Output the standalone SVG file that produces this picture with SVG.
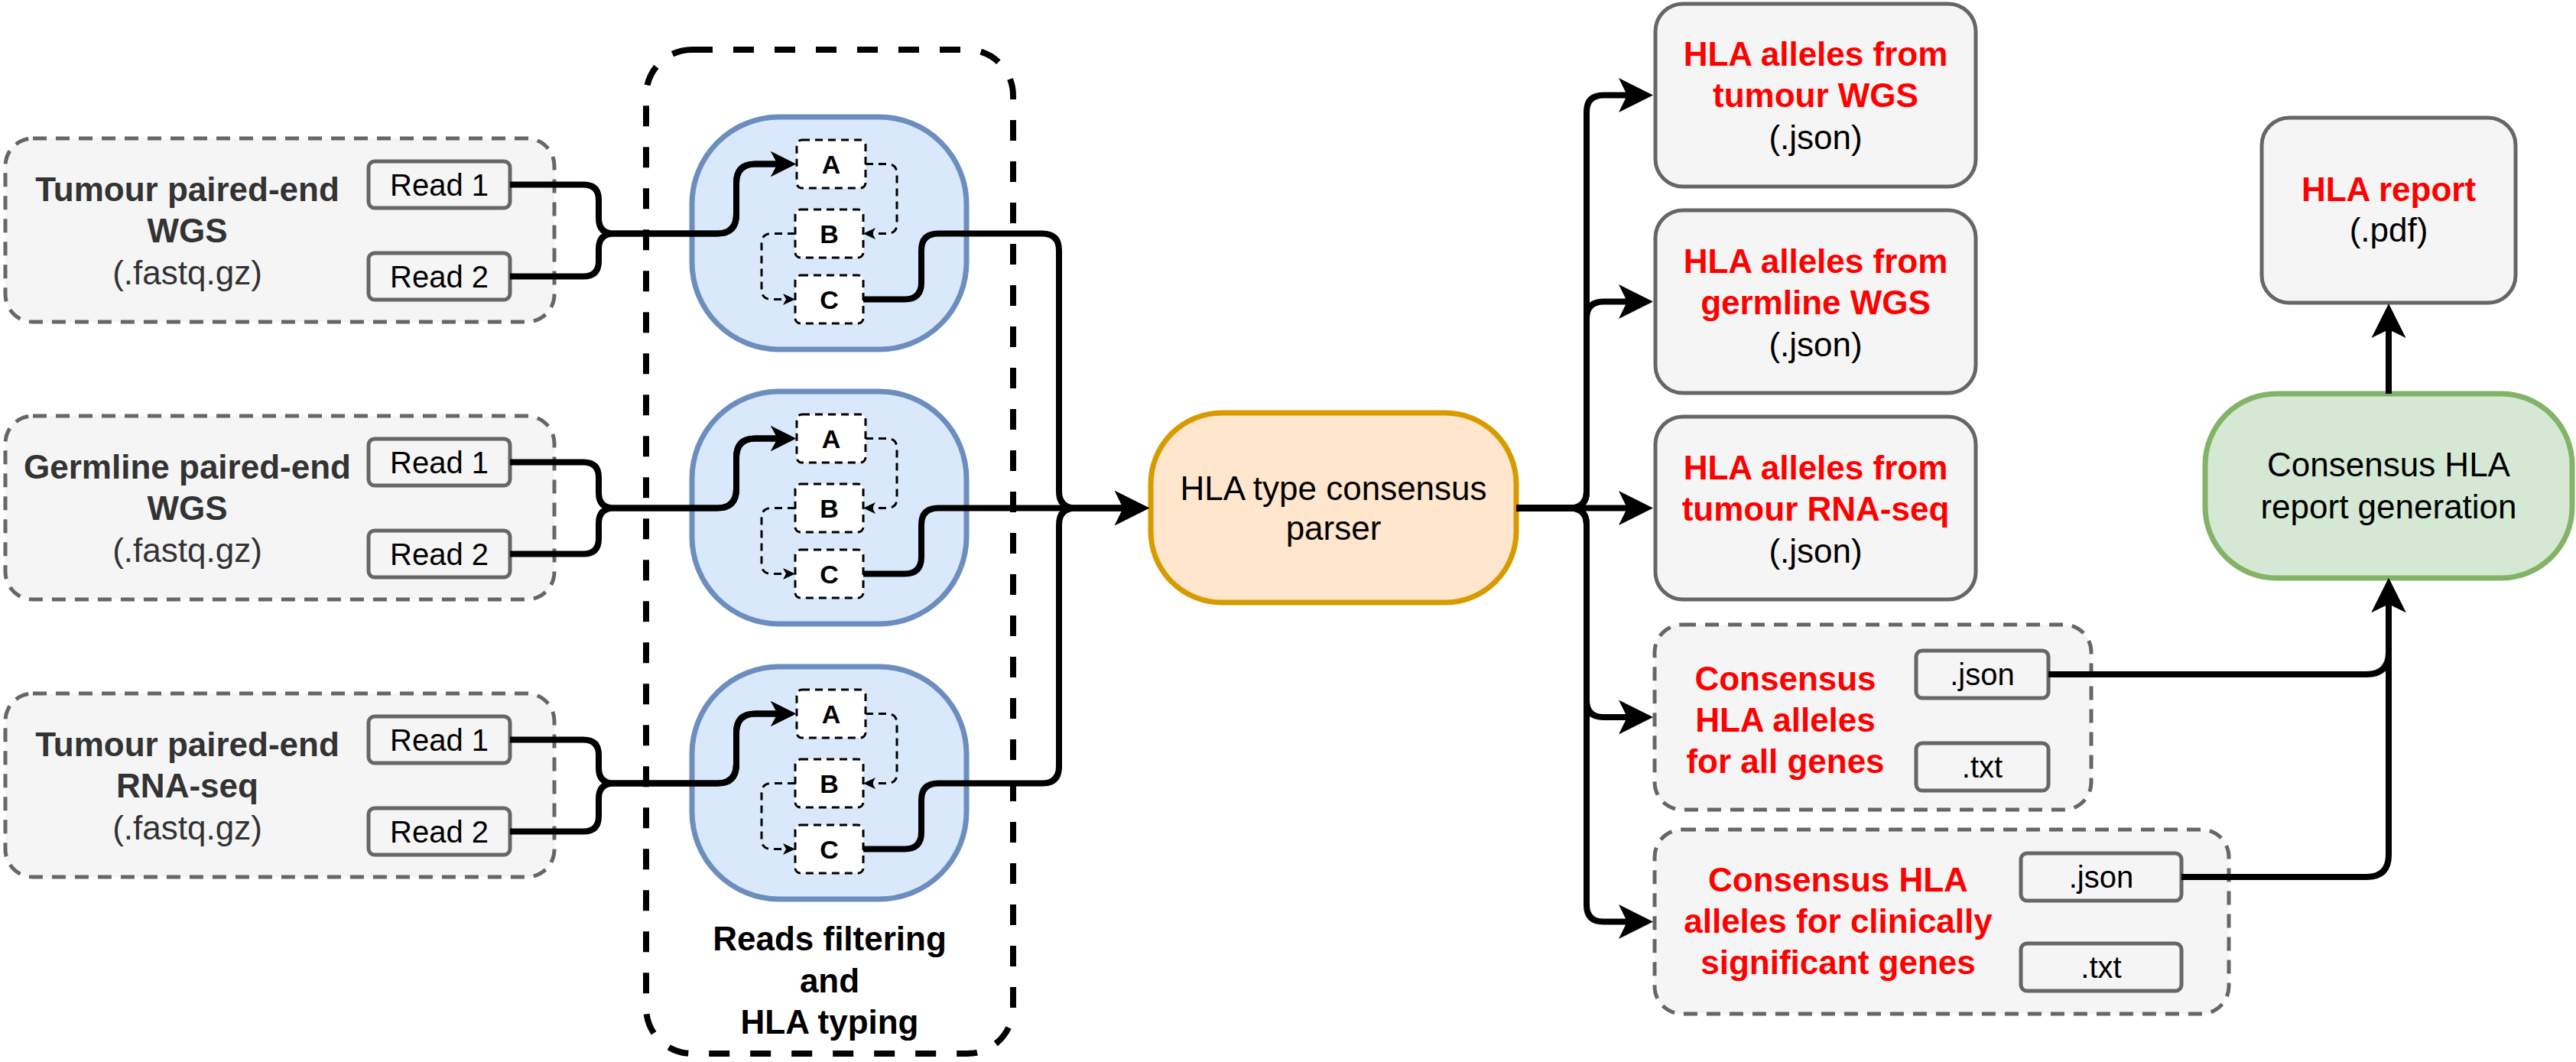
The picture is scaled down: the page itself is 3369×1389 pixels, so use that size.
<svg xmlns="http://www.w3.org/2000/svg" width="3369" height="1389" viewBox="0 0 3369 1389">
<style>
.t{font-family:"Liberation Sans",Arial,Helvetica,sans-serif;text-anchor:middle;font-size:44px;fill:#000}
.s40{font-size:40px}
.s34{font-size:34px}
.b{font-weight:bold}
.red{fill:#ff0000}
.dark{fill:#333333}
.gbox{fill:#f5f5f5;stroke:#666666;stroke-width:5}
.gdash{stroke-dasharray:18 12}
.small{fill:#f5f5f5;stroke:#666666;stroke-width:5}
.blue{fill:#dae8fc;stroke:#6c8ebf;stroke-width:7}
.orange{fill:#ffe6cc;stroke:#d79b00;stroke-width:7}
.green{fill:#d5e8d4;stroke:#82b366;stroke-width:7}
.inner{fill:#ffffff;stroke:#000;stroke-width:3;stroke-dasharray:10 7}
.cont{fill:none;stroke:#000;stroke-width:8;stroke-dasharray:27 27}
.conn{fill:none;stroke:#000;stroke-width:8;stroke-linejoin:round}
.iconn{fill:none;stroke:#000;stroke-width:3;stroke-dasharray:10 7}
</style>
<defs>
<marker id="arrowL" markerUnits="userSpaceOnUse" viewBox="-12 -24 48 48" markerWidth="48" markerHeight="48" refX="0" refY="0" orient="auto"><path d="M34,0 L-11,-22.5 L0,0 L-11,22.5 Z" fill="#000" stroke="none"/></marker>
<marker id="arrowS" markerUnits="userSpaceOnUse" viewBox="-10 -18 36 36" markerWidth="36" markerHeight="36" refX="0" refY="0" orient="auto"><path d="M24,0 L-9,-16.5 L0,0 L-9,16.5 Z" fill="#000" stroke="none"/></marker>
<marker id="arrowT" markerUnits="userSpaceOnUse" viewBox="-5 -8 18 16" markerWidth="18" markerHeight="16" refX="0" refY="0" orient="auto"><path d="M12,0 L-4,-7.5 L0,0 L-4,7.5 Z" fill="#000" stroke="none"/></marker>
</defs>

<g id="input-tumour-wgs">
<rect class="gbox gdash" x="7" y="181" width="718" height="240" rx="36"/>
<text class="t b dark" x="245" y="263">Tumour paired-end</text>
<text class="t b dark" x="245" y="317">WGS</text>
<text class="t dark" x="245" y="372">(.fastq.gz)</text>
<rect class="small" x="482" y="211" width="185" height="61" rx="8"/>
<text class="t s40" x="574.5" y="256">Read 1</text>
<rect class="small" x="482" y="331" width="185" height="61" rx="8"/>
<text class="t s40" x="574.5" y="376">Read 2</text>
</g>
<g id="input-germline-wgs">
<rect class="gbox gdash" x="7" y="544" width="718" height="240" rx="36"/>
<text class="t b dark" x="245" y="626">Germline paired-end</text>
<text class="t b dark" x="245" y="680">WGS</text>
<text class="t dark" x="245" y="735">(.fastq.gz)</text>
<rect class="small" x="482" y="574" width="185" height="61" rx="8"/>
<text class="t s40" x="574.5" y="619">Read 1</text>
<rect class="small" x="482" y="694" width="185" height="61" rx="8"/>
<text class="t s40" x="574.5" y="739">Read 2</text>
</g>
<g id="input-tumour-rnaseq">
<rect class="gbox gdash" x="7" y="907" width="718" height="240" rx="36"/>
<text class="t b dark" x="245" y="989">Tumour paired-end</text>
<text class="t b dark" x="245" y="1043">RNA-seq</text>
<text class="t dark" x="245" y="1098">(.fastq.gz)</text>
<rect class="small" x="482" y="937" width="185" height="61" rx="8"/>
<text class="t s40" x="574.5" y="982">Read 1</text>
<rect class="small" x="482" y="1057" width="185" height="61" rx="8"/>
<text class="t s40" x="574.5" y="1102">Read 2</text>
</g>

<g id="reads-filtering-hla-typing">
<rect class="cont" x="845" y="65" width="480" height="1313" rx="60"/>
<text class="t b" x="1085" y="1243">Reads filtering</text>
<text class="t b" x="1085" y="1298">and</text>
<text class="t b" x="1085" y="1352">HLA typing</text>
</g>

<g id="typing-1">
<rect class="blue" x="905" y="153" width="359" height="304" rx="114"/>
</g>
<g id="typing-2">
<rect class="blue" x="905" y="512" width="359" height="304" rx="114"/>
</g>
<g id="typing-3">
<rect class="blue" x="905" y="872" width="359" height="304" rx="114"/>
</g>

<g id="consensus-parser">
<rect class="orange" x="1505" y="540" width="478" height="248" rx="93"/>
<text class="t" x="1744" y="654">HLA type consensus</text>
<text class="t" x="1744" y="706">parser</text>
</g>

<g id="out-tumour-wgs">
<rect class="gbox" x="2165" y="5" width="419" height="239" rx="36"/>
<text class="t b red" x="2374.5" y="86">HLA alleles from</text>
<text class="t b red" x="2374.5" y="140">tumour WGS</text>
<text class="t" x="2374.5" y="195">(.json)</text>
</g>
<g id="out-germline-wgs">
<rect class="gbox" x="2165" y="275" width="419" height="239" rx="36"/>
<text class="t b red" x="2374.5" y="357">HLA alleles from</text>
<text class="t b red" x="2374.5" y="411">germline WGS</text>
<text class="t" x="2374.5" y="466">(.json)</text>
</g>
<g id="out-tumour-rnaseq">
<rect class="gbox" x="2165" y="545" width="419" height="239" rx="36"/>
<text class="t b red" x="2374.5" y="627">HLA alleles from</text>
<text class="t b red" x="2374.5" y="681">tumour RNA-seq</text>
<text class="t" x="2374.5" y="736">(.json)</text>
</g>
<g id="out-consensus-all">
<rect class="gbox gdash" x="2164" y="817" width="571" height="242" rx="36"/>
<text class="t b red" x="2335" y="903">Consensus</text>
<text class="t b red" x="2335" y="957">HLA alleles</text>
<text class="t b red" x="2335" y="1011">for all genes</text>
<rect class="small" x="2506" y="851" width="173" height="62" rx="8"/>
<text class="t s40" x="2592.5" y="896">.json</text>
<rect class="small" x="2506" y="972" width="173" height="62" rx="8"/>
<text class="t s40" x="2592.5" y="1017">.txt</text>
</g>
<g id="out-consensus-clinical">
<rect class="gbox gdash" x="2164" y="1085" width="751" height="241" rx="36"/>
<text class="t b red" x="2404" y="1166">Consensus HLA</text>
<text class="t b red" x="2404" y="1220">alleles for clinically</text>
<text class="t b red" x="2404" y="1274">significant genes</text>
<rect class="small" x="2643" y="1116" width="210" height="62" rx="8"/>
<text class="t s40" x="2748" y="1161">.json</text>
<rect class="small" x="2643" y="1234" width="210" height="62" rx="8"/>
<text class="t s40" x="2748" y="1279">.txt</text>
</g>

<g id="report-generation">
<rect class="green" x="2884" y="515" width="480" height="241" rx="93"/>
<text class="t" x="3124" y="623">Consensus HLA</text>
<text class="t" x="3124" y="678">report generation</text>
</g>
<g id="hla-report">
<rect class="gbox" x="2958" y="154" width="332" height="242" rx="36"/>
<text class="t b red" x="3124" y="263">HLA report</text>
<text class="t" x="3124" y="316">(.pdf)</text>
</g>

<g id="connectors">
<path class="conn" marker-end="url(#arrowS)" d="M667 241.5 H763 Q783 241.5 783 261.5 V285.5 Q783 305.5 803 305.5 H938 Q963 305.5 963 280.5 V239.5 Q963 214.5 988 214.5 H1017"/>
<path class="conn" marker-end="url(#arrowS)" d="M667 361.5 H763 Q783 361.5 783 341.5 V325.5 Q783 305.5 803 305.5 H938 Q963 305.5 963 280.5 V239.5 Q963 214.5 988 214.5 H1017"/>
<path class="conn" marker-end="url(#arrowS)" d="M667 604.5 H763 Q783 604.5 783 624.5 V644.5 Q783 664.5 803 664.5 H938 Q963 664.5 963 639.5 V598.5 Q963 573.5 988 573.5 H1017"/>
<path class="conn" marker-end="url(#arrowS)" d="M667 724.5 H763 Q783 724.5 783 704.5 V684.5 Q783 664.5 803 664.5 H938 Q963 664.5 963 639.5 V598.5 Q963 573.5 988 573.5 H1017"/>
<path class="conn" marker-end="url(#arrowS)" d="M667 967.5 H763 Q783 967.5 783 987.5 V1004.5 Q783 1024.5 803 1024.5 H938 Q963 1024.5 963 999.5 V958.5 Q963 933.5 988 933.5 H1017"/>
<path class="conn" marker-end="url(#arrowS)" d="M667 1087.5 H763 Q783 1087.5 783 1067.5 V1044.5 Q783 1024.5 803 1024.5 H938 Q963 1024.5 963 999.5 V958.5 Q963 933.5 988 933.5 H1017"/>

<path class="iconn" marker-end="url(#arrowT)" d="M1132 214.5 H1160 Q1173 214.5 1173 227.5 V292.5 Q1173 305.5 1160 305.5 H1141"/>
<path class="iconn" marker-end="url(#arrowT)" d="M1040 305.5 H1009 Q996 305.5 996 318.5 V378.5 Q996 391.5 1009 391.5 H1028"/>
<path class="iconn" marker-end="url(#arrowT)" d="M1132 573.5 H1160 Q1173 573.5 1173 586.5 V651.5 Q1173 664.5 1160 664.5 H1141"/>
<path class="iconn" marker-end="url(#arrowT)" d="M1040 664.5 H1009 Q996 664.5 996 677.5 V737.5 Q996 750.5 1009 750.5 H1028"/>
<path class="iconn" marker-end="url(#arrowT)" d="M1132 933.5 H1160 Q1173 933.5 1173 946.5 V1011.5 Q1173 1024.5 1160 1024.5 H1141"/>
<path class="iconn" marker-end="url(#arrowT)" d="M1040 1024.5 H1009 Q996 1024.5 996 1037.5 V1097.5 Q996 1110.5 1009 1110.5 H1028"/>

<path class="conn" marker-end="url(#arrowL)" d="M1129 391.5 H1183 Q1205 391.5 1205 369.5 V327.5 Q1205 305.5 1227 305.5 H1363 Q1385 305.5 1385 327.5 V642.5 Q1385 664.5 1407 664.5 H1469"/>
<path class="conn" marker-end="url(#arrowL)" d="M1129 750.5 H1183 Q1205 750.5 1205 728.5 V686.5 Q1205 664.5 1227 664.5 H1469"/>
<path class="conn" marker-end="url(#arrowL)" d="M1129 1110.5 H1183 Q1205 1110.5 1205 1088.5 V1046.5 Q1205 1024.5 1227 1024.5 H1363 Q1385 1024.5 1385 1002.5 V686.5 Q1385 664.5 1407 664.5 H1469"/>

<path class="conn" marker-end="url(#arrowL)" d="M1983 664.5 H2053 Q2075 664.5 2075 642.5 V146.5 Q2075 124.5 2097 124.5 H2128"/>
<path class="conn" marker-end="url(#arrowL)" d="M1983 664.5 H2053 Q2075 664.5 2075 642.5 V416.5 Q2075 394.5 2097 394.5 H2128"/>
<path class="conn" marker-end="url(#arrowL)" d="M1983 664.5 H2128"/>
<path class="conn" marker-end="url(#arrowL)" d="M1983 664.5 H2053 Q2075 664.5 2075 686.5 V916 Q2075 938 2097 938 H2128"/>
<path class="conn" marker-end="url(#arrowL)" d="M1983 664.5 H2053 Q2075 664.5 2075 686.5 V1183.5 Q2075 1205.5 2097 1205.5 H2128"/>

<path class="conn" marker-end="url(#arrowL)" d="M2679 882 H3095 Q3124 882 3124 853 V790"/>
<path class="conn" marker-end="url(#arrowL)" d="M2853 1147 H3095 Q3124 1147 3124 1118 V790"/>
<path class="conn" marker-end="url(#arrowL)" d="M3124 515 V431"/>
</g>

<g id="typing-1-steps">
<rect class="inner" x="1042" y="183" width="90" height="63" rx="7"/>
<text class="t b s34" x="1087" y="226.5">A</text>
<rect class="inner" x="1040" y="274" width="89" height="63" rx="7"/>
<text class="t b s34" x="1084.5" y="317.5">B</text>
<rect class="inner" x="1040" y="360" width="89" height="63" rx="7"/>
<text class="t b s34" x="1084.5" y="403.5">C</text>
</g>
<g id="typing-2-steps">
<rect class="inner" x="1042" y="542" width="90" height="63" rx="7"/>
<text class="t b s34" x="1087" y="585.5">A</text>
<rect class="inner" x="1040" y="633" width="89" height="63" rx="7"/>
<text class="t b s34" x="1084.5" y="676.5">B</text>
<rect class="inner" x="1040" y="719" width="89" height="63" rx="7"/>
<text class="t b s34" x="1084.5" y="762.5">C</text>
</g>
<g id="typing-3-steps">
<rect class="inner" x="1042" y="902" width="90" height="63" rx="7"/>
<text class="t b s34" x="1087" y="945.5">A</text>
<rect class="inner" x="1040" y="993" width="89" height="63" rx="7"/>
<text class="t b s34" x="1084.5" y="1036.5">B</text>
<rect class="inner" x="1040" y="1079" width="89" height="63" rx="7"/>
<text class="t b s34" x="1084.5" y="1122.5">C</text>
</g>
</svg>
